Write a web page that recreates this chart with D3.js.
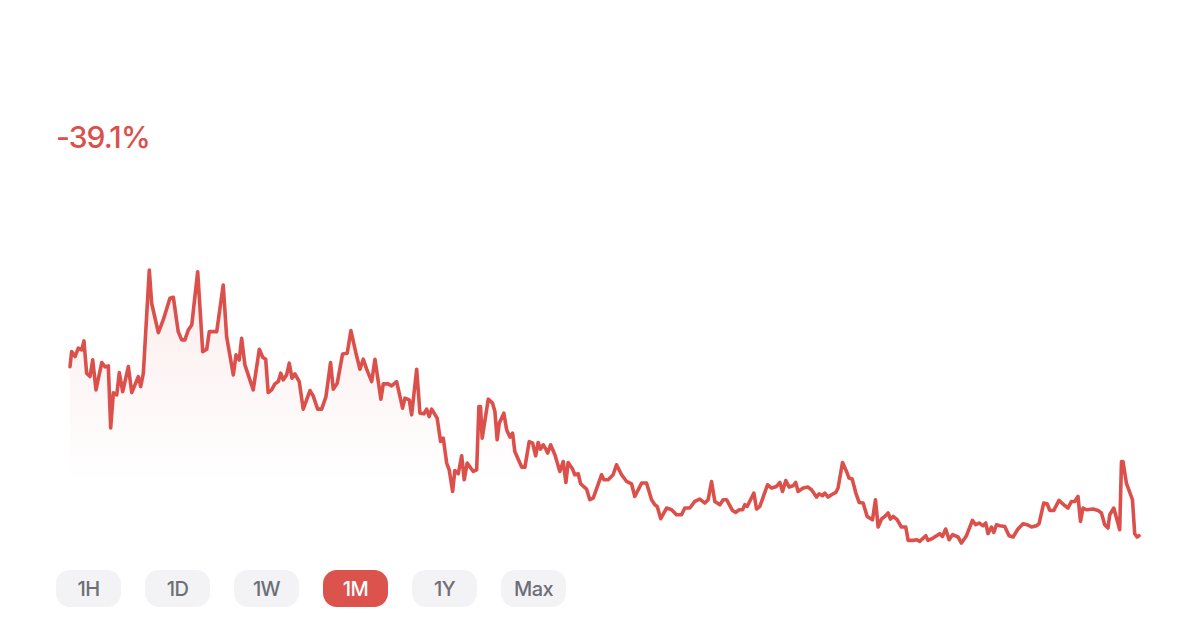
<!DOCTYPE html>
<html>
<head>
<meta charset="utf-8">
<script src="https://cdn.jsdelivr.net/npm/d3@7"></script>
<style>
  html, body { margin: 0; padding: 0; background: #fff; }
  svg { display: block; font-family: Inter, "Noto Sans", sans-serif; }
</style>
</head>
<body>
<svg id="chart" width="1200" height="618"></svg>
<script>
// Price history for the 1M range: hours since start of window and price
const hours = [
  0, 1.1, 3.4, 5.6, 7.9, 9.4, 11.2, 13.5, 15.3, 17.5, 21.4, 23.6, 25.8, 27.4, 29.2, 31.5, 33.2, 35.5, 39.3, 41.6,
  46.0, 47.6, 49.4, 53.4, 55.0, 59.5, 62.8, 67.3, 69.6, 72.9, 75.2, 77.4, 79.7, 82.0, 86.0, 89.4, 92.1, 93.8, 98.8, 103.2,
  105.5, 110.0, 111.8, 114.0, 115.6, 117.8, 123.4, 127.5, 129.8, 131.8, 133.5, 135.8, 138.0, 140.3, 141.9, 143.6, 145.9, 147.7, 149.5, 151.5,
  154.4, 157.1, 161.6, 163.8, 166.8, 169.5, 172.4, 175.5, 177.3, 180.0, 183.6, 186.7, 189.2, 192.6, 195.3, 197.5, 199.8, 203.2, 205.4, 209.4,
  211.0, 214.3, 216.6, 220.0, 224.0, 225.6, 228.5, 230.1, 233.5, 235.7, 238.4, 240.2, 241.9, 243.6, 247.3, 249.6, 251.4, 253.7, 255.4, 257.7,
  259.2, 261.5, 263.8, 265.5, 267.5, 271.6, 273.9, 275.4, 276.5, 277.6, 281.7, 284.6, 286.2, 287.7, 289.1, 292.2, 294.1, 296.3, 298.1, 299.6,
  304.2, 306.4, 309.3, 311.6, 313.6, 315.3, 316.9, 318.7, 320.5, 321.7, 323.7, 326.6, 329.9, 332.2, 334.0, 335.5, 338.5, 340.0, 342.3, 343.9,
  347.9, 350.1, 352.4, 358.0, 359.6, 362.5, 365.8, 368.1, 371.5, 374.9, 378.2, 380.4, 385.0, 388.3, 391.7, 393.9, 395.5, 397.9, 401.8, 405.2,
  408.5, 411.9, 414.1, 417.5, 420.8, 424.2, 427.6, 429.8, 432.1, 434.3, 437.7, 439.9, 442.2, 446.2, 448.4, 450.7, 453.0, 454.5, 456.1, 460.6,
  462.4, 464.6, 466.4, 469.8, 472.5, 475.9, 478.1, 479.9, 482.1, 484.3, 487.0, 488.8, 490.4, 493.8, 497.1, 499.4, 502.8, 504.5, 506.8, 508.4,
  510.6, 512.9, 515.8, 517.3, 520.3, 523.0, 524.7, 526.8, 529.3, 531.5, 534.2, 536.9, 540.5, 542.5, 544.3, 546.6, 548.8, 551.0, 552.6, 554.4,
  557.1, 560.0, 562.9, 564.5, 567.8, 570.1, 572.3, 576.4, 577.9, 581.3, 585.8, 587.6, 589.8, 592.1, 594.4, 598.1, 600.4, 603.8, 607.8, 610.0,
  612.3, 615.0, 616.8, 618.3, 620.6, 622.2, 624.0, 626.2, 629.6, 632.5, 635.2, 638.5, 641.9, 644.6, 647.6, 650.9, 652.7, 655.8, 658.1, 659.9,
  662.6, 666.1, 669.3, 672.2, 674.5, 676.7, 678.9, 680.6, 682.3, 684.6, 689.0, 692.4, 694.7, 696.9, 699.1, 700.3, 703.0, 707.0, 708.2, 709.2,
  711.5, 715.6, 717.1, 718.7, 720
];

const prices = [
  0.4333, 0.4483, 0.4433, 0.4517, 0.4500, 0.4590, 0.4267, 0.4233, 0.4400, 0.4100, 0.4373, 0.4330, 0.4340, 0.3720, 0.4070, 0.4050, 0.4273, 0.4083, 0.4333, 0.4073,
  0.4233, 0.4133, 0.4267, 0.5300, 0.4967, 0.4673, 0.4800, 0.5017, 0.5027, 0.4683, 0.4600, 0.4600, 0.4700, 0.4750, 0.5283, 0.4483, 0.4507, 0.4683, 0.4683, 0.5150,
  0.4633, 0.4250, 0.4450, 0.4400, 0.4617, 0.4350, 0.4100, 0.4507, 0.4427, 0.4407, 0.4073, 0.4100, 0.4160, 0.4183, 0.4267, 0.4200, 0.4250, 0.4367, 0.4217, 0.4260,
  0.4183, 0.3907, 0.4093, 0.4040, 0.3907, 0.3907, 0.4033, 0.4373, 0.4107, 0.4167, 0.4460, 0.4467, 0.4693, 0.4467, 0.4307, 0.4407, 0.4307, 0.4183, 0.4407, 0.4007,
  0.4160, 0.4160, 0.4140, 0.4183, 0.3917, 0.4017, 0.4000, 0.3850, 0.4307, 0.3867, 0.3860, 0.3907, 0.3833, 0.3907, 0.3817, 0.3583, 0.3617, 0.3367, 0.3300, 0.3083,
  0.3293, 0.3260, 0.3440, 0.3200, 0.3367, 0.3283, 0.3300, 0.3933, 0.3933, 0.3617, 0.4007, 0.3967, 0.3883, 0.3600, 0.3767, 0.3867, 0.3700, 0.3627, 0.3667, 0.3483,
  0.3327, 0.3327, 0.3583, 0.3567, 0.3440, 0.3573, 0.3507, 0.3550, 0.3507, 0.3467, 0.3550, 0.3450, 0.3283, 0.3383, 0.3173, 0.3373, 0.3307, 0.3250, 0.3260, 0.3160,
  0.3107, 0.3000, 0.3017, 0.3250, 0.3200, 0.3200, 0.3250, 0.3350, 0.3250, 0.3183, 0.3160, 0.3033, 0.3167, 0.3167, 0.3000, 0.2950, 0.2933, 0.2810, 0.2917, 0.2900,
  0.2850, 0.2850, 0.2917, 0.2917, 0.2983, 0.3007, 0.2967, 0.3000, 0.3183, 0.2983, 0.2950, 0.3000, 0.3000, 0.2893, 0.2873, 0.2900, 0.2900, 0.2950, 0.2933, 0.3067,
  0.2907, 0.2933, 0.3007, 0.3150, 0.3117, 0.3133, 0.3173, 0.3083, 0.3193, 0.3127, 0.3140, 0.3173, 0.3083, 0.3117, 0.3127, 0.3100, 0.3027, 0.3060, 0.3040, 0.3067,
  0.3027, 0.3050, 0.3073, 0.3117, 0.3373, 0.3283, 0.3217, 0.3207, 0.3067, 0.2973, 0.2967, 0.2833, 0.2800, 0.3000, 0.2727, 0.2807, 0.2833, 0.2867, 0.2807, 0.2833,
  0.2800, 0.2727, 0.2727, 0.2593, 0.2593, 0.2600, 0.2583, 0.2640, 0.2593, 0.2617, 0.2660, 0.2633, 0.2707, 0.2600, 0.2650, 0.2627, 0.2567, 0.2640, 0.2793, 0.2750,
  0.2767, 0.2740, 0.2767, 0.2660, 0.2727, 0.2673, 0.2750, 0.2740, 0.2733, 0.2640, 0.2627, 0.2707, 0.2760, 0.2750, 0.2727, 0.2740, 0.2760, 0.2967, 0.2960, 0.2893,
  0.2893, 0.2993, 0.2950, 0.2917, 0.2983, 0.2983, 0.3033, 0.2783, 0.2917, 0.2900, 0.2907, 0.2893, 0.2867, 0.2750, 0.2717, 0.2850, 0.2917, 0.2700, 0.3383, 0.3383,
  0.3167, 0.3000, 0.2660, 0.2627, 0.2640
];

// Range buttons under the chart
const ranges = ["1H", "1D", "1W", "1M", "1Y", "Max"];
const activeRange = "1M";

const lineColor = "#dc504b";

const svg = d3.select("#chart");

const data = hours.map((h, i) => ({ h: h, p: prices[i] }));

const x = d3.scaleLinear()
  .domain(d3.extent(hours))
  .range([70, 1139]);

const y = d3.scaleLinear()
  .domain(d3.extent(prices))
  .range([543, 270]);

// soft red fade under the line
const defs = svg.append("defs");
const grad = defs.append("linearGradient")
  .attr("id", "fade")
  .attr("gradientUnits", "userSpaceOnUse")
  .attr("x1", 0).attr("x2", 0)
  .attr("y1", 270).attr("y2", 482);
grad.append("stop").attr("offset", "0%").attr("stop-color", lineColor).attr("stop-opacity", 0.11);
grad.append("stop").attr("offset", "100%").attr("stop-color", lineColor).attr("stop-opacity", 0);

const area = d3.area()
  .x(d => x(d.h))
  .y0(548)
  .y1(d => y(d.p));

svg.append("path")
  .datum(data)
  .attr("d", area)
  .attr("fill", "url(#fade)");

const line = d3.line()
  .x(d => x(d.h))
  .y(d => y(d.p));

svg.append("path")
  .datum(data)
  .attr("d", line)
  .attr("fill", "none")
  .attr("stroke", lineColor)
  .attr("stroke-width", 3.6)
  .attr("stroke-linejoin", "round")
  .attr("stroke-linecap", "round");

// change over the whole window
const change = (prices[prices.length - 1] / prices[0] - 1) * 100;
const changeText = (change < 0 ? "-" : "+") + Math.abs(change).toFixed(1) + "%";

svg.append("text")
  .attr("x", 56)
  .attr("y", 148)
  .attr("fill", lineColor)
  .attr("font-size", 30)
  .attr("font-weight", 500)
  .attr("letter-spacing", -0.9)
  .text(changeText);

// range selector
const bx = d3.scaleBand()
  .domain(ranges)
  .range([56, 566])
  .paddingInner(0.27)
  .paddingOuter(0);

const btn = svg.append("g")
  .selectAll("g")
  .data(ranges)
  .join("g")
  .attr("transform", d => `translate(${bx(d)},570)`);

btn.append("rect")
  .attr("width", bx.bandwidth())
  .attr("height", 37)
  .attr("rx", 14)
  .attr("fill", d => d === activeRange ? "#dc524d" : "#f3f3f5");

btn.append("text")
  .attr("x", bx.bandwidth() / 2)
  .attr("y", 25.5)
  .attr("text-anchor", "middle")
  .attr("font-size", 20)
  .attr("font-weight", 500)
  .attr("letter-spacing", -0.6)
  .attr("fill", d => d === activeRange ? "#ffffff" : "#6e6e77")
  .text(d => d);
</script>
</body>
</html>
